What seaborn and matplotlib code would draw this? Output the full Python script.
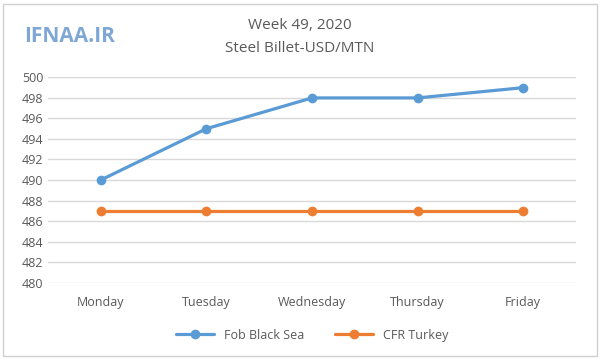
import matplotlib
matplotlib.use("Agg")
import matplotlib.pyplot as plt
import seaborn as sns
import pandas as pd

days = ["Monday", "Tuesday", "Wednesday", "Thursday", "Friday"]
fob_black_sea = [490, 495, 498, 498, 499]
cfr_turkey = [487, 487, 487, 487, 487]
y_ticks = list(range(480, 501, 2))

df = pd.DataFrame({
    "day": days * 2,
    "price": fob_black_sea + cfr_turkey,
    "series": ["Fob Black Sea"] * 5 + ["CFR Turkey"] * 5,
})

sns.set_style("white")
plt.rcParams["font.family"] = ["Open Sans", "DejaVu Sans"]

fig = plt.figure(figsize=(6, 3.6), dpi=100)
ax = fig.add_axes([0.08, 0.215, 0.88, 0.57])

sns.lineplot(data=df, x="day", y="price", hue="series",
             palette=["#5b9bd5", "#ed7d31"], marker="o", markersize=7,
             markeredgewidth=0, linewidth=2.3, sort=False, ax=ax)

ax.set_ylim(480, 500)
ax.set_yticks(y_ticks)
ax.set_xlim(-0.5, 4.5)
ax.grid(axis="y", color="#d9d9d9", linewidth=1)
ax.set_axisbelow(True)
for s in ax.spines.values():
    s.set_visible(False)
ax.tick_params(axis="both", length=0, labelsize=9, colors="#595959")
ax.tick_params(axis="x", pad=10)
ax.set_xlabel("")
ax.set_ylabel("")

ax.legend(loc="upper center", bbox_to_anchor=(0.5, -0.17), ncol=2,
          frameon=False, fontsize=9, labelcolor="#595959",
          handlelength=3, columnspacing=2.5)

fig.text(0.5, 0.93, "Week 49, 2020", ha="center", va="center",
         fontsize=11, color="#595959")
fig.text(0.5, 0.865, "Steel Billet-USD/MTN", ha="center", va="center",
         fontsize=11, color="#595959")
fig.text(0.04, 0.9, "IFNAA.IR", ha="left", va="center", fontsize=15,
         color="#7fa7d6", fontweight="bold")

fig.patches.append(plt.Rectangle((0.005, 0.01), 0.99, 0.98,
                                 transform=fig.transFigure, fill=False,
                                 edgecolor="#d0d0d0", linewidth=1))

fig.savefig("out.png", dpi=100)
